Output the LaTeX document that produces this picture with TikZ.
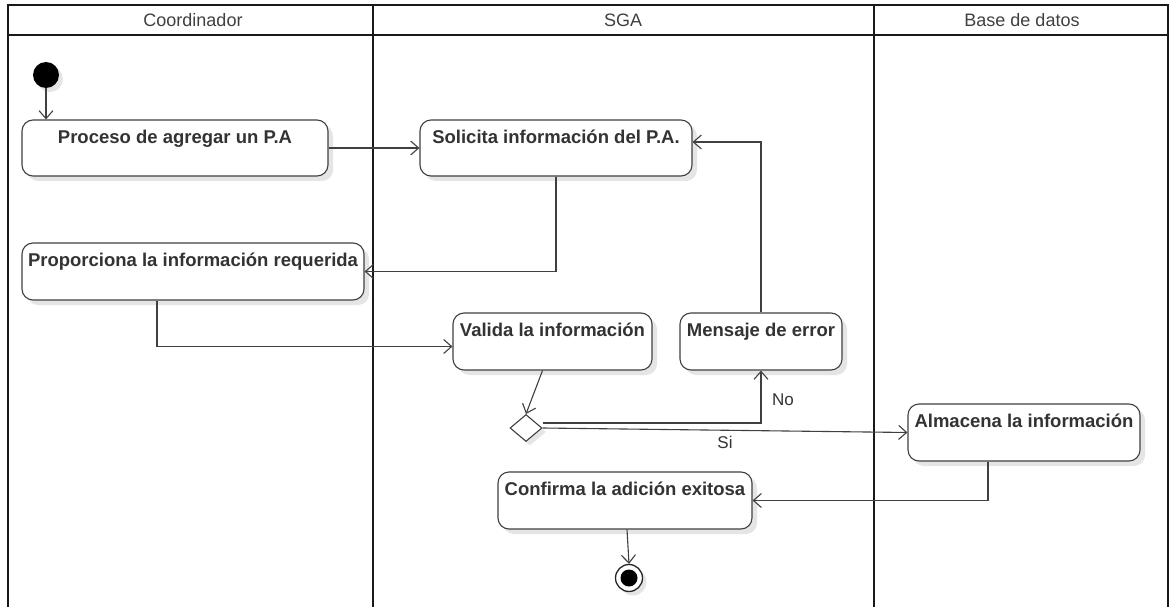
\documentclass[tikz,border=0pt]{standalone}
\usepackage{fontspec}
\setmainfont{Liberation Sans}
\usetikzlibrary{arrows.meta,shapes.geometric,shadows,calc}
\begin{document}
\begin{tikzpicture}[x=1pt,y=-1pt,
  lane/.style={line width=2.6pt, draw=black!90},
  act/.style={draw=black!75, line width=1.1pt, rounded corners=11pt, fill=white, inner sep=0pt,
    drop shadow={shadow xshift=5pt,shadow yshift=-5pt,fill=black!10,opacity=1}},
  arr/.style={draw=black!75, line width=1.1pt, -{Straight Barb[length=8pt,width=14pt]}},
  lbl/.style={font=\fontsize{18.5}{21}\selectfont\bfseries, text=black!80, anchor=base, inner sep=0pt},
  hdr/.style={font=\fontsize{18}{21}\selectfont, text=black!75},
  small/.style={font=\fontsize{17}{20}\selectfont, text=black!80}]
\useasboundingbox[fill=white] (0,0) rectangle (1173,607);
% lanes
\draw[lane] (8,5) rectangle (1168,35);
\draw[lane] (8,5) -- (8,607);
\draw[lane] (373,5) -- (373,607);
\draw[lane] (874,5) -- (874,607);
\draw[lane] (1168,5) -- (1168,607);
\node[hdr] (h1) at (193,20) {Coordinador};
\node[hdr] (h2) at (623,20) {SGA};
\node[hdr] (h3) at (1022,20) {Base de datos};
% nodes
\node[circle, fill=black, minimum size=26pt, inner sep=0pt,
  drop shadow={shadow xshift=4pt,shadow yshift=-4pt,fill=black!10,opacity=1}] (init) at (46,75) {};
\node[act, minimum width=306pt, minimum height=56pt] (n1) at (175,148) {};
\node[lbl] (t1) at ($(n1.north)+(0,24)$) {Proceso de agregar un P.A};
\node[act, minimum width=272pt, minimum height=56pt] (n2) at (556,148) {};
\node[lbl] (t2) at ($(n2.north)+(0,24)$) {Solicita información del P.A.};
\node[act, minimum width=342pt, minimum height=57pt] (n3) at (193,271.5) {};
\node[lbl] (t3) at ($(n3.north)+(0,24)$) {Proporciona la información requerida};
\node[act, minimum width=199pt, minimum height=57pt] (n4) at (552.5,341.5) {};
\node[lbl] (t4) at ($(n4.north)+(0,24)$) {Valida la información};
\node[act, minimum width=162pt, minimum height=57pt] (n5) at (761,341.5) {};
\node[lbl] (t5) at ($(n5.north)+(0,24)$) {Mensaje de error};
\node[diamond, draw=black!75, line width=1.1pt, fill=white, minimum width=32pt, minimum height=27pt, inner sep=0pt,
  drop shadow={shadow xshift=4pt,shadow yshift=-4pt,fill=black!10,opacity=1}] (dec) at (526,428) {};
\node[act, minimum width=232pt, minimum height=57pt] (n6) at (1024,432.5) {};
\node[lbl] (t6) at ($(n6.north)+(0,24)$) {Almacena la información};
\node[act, minimum width=254pt, minimum height=57pt] (n7) at (625,500.5) {};
\node[lbl] (t7) at ($(n7.north)+(0,24)$) {Confirma la adición exitosa};
\node[circle, draw=black!85, line width=1.3pt, fill=white, minimum size=27pt, inner sep=0pt,
  drop shadow={shadow xshift=4pt,shadow yshift=-4pt,fill=black!10,opacity=1}] (fin) at (629,578) {};
\node[circle, fill=black, minimum size=17pt, inner sep=0pt] (finin) at (fin) {};
% edges
\draw[arr] (init) -- (init |- n1.north);
\draw[arr] (n1) -- (n2);
\draw[arr] (n2.south) |- (n3.east);
\draw[arr] ([xshift=-36pt]n3.south) |- ([yshift=-5pt]n4.west);
\draw[arr] (n5.north) |- ([yshift=6pt]n2.east);
\draw[arr] ([xshift=-10pt]n4.south) -- (dec.north);
\draw[arr] ([yshift=5pt]dec.east) -| (n5.south);
\draw[arr] (dec.east) -- (n6.west);
\draw[arr] ([xshift=-36pt]n6.south) |- (n7.east);
\draw[arr] ([xshift=2pt]n7.south) -- (fin.north);
\node[small] (no) at (783,400) {No};
\node[small] (si) at (725,442) {Si};
\end{tikzpicture}
\end{document}
